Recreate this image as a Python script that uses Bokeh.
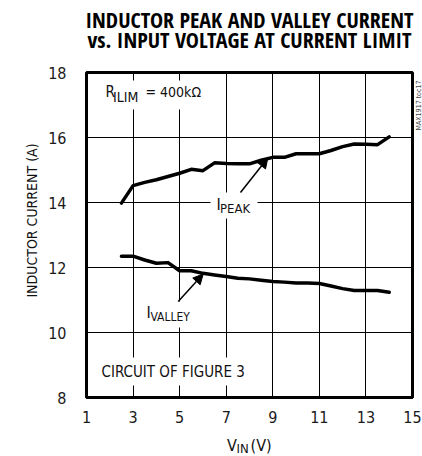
from bokeh.plotting import figure
from bokeh.models import Label, BoxAnnotation, Arrow, NormalHead, FixedTicker, Range1d
from bokeh.embed import file_html
from bokeh.resources import INLINE
import math

vin = [2.5, 3.0, 3.5, 4.0, 4.5, 5.0, 5.5, 6.0, 6.5, 7.0, 7.5, 8.0,
       8.5, 9.0, 9.5, 10.0, 10.5, 11.0, 11.5, 12.0, 12.5, 13.0, 13.5, 14.0]
i_peak = [13.98, 14.52, 14.62, 14.70, 14.80, 14.90, 15.02, 14.98, 15.22, 15.20, 15.19, 15.19,
          15.30, 15.39, 15.39, 15.50, 15.50, 15.50, 15.60, 15.72, 15.80, 15.79, 15.78, 16.02]
i_valley = [12.35, 12.35, 12.23, 12.13, 12.15, 11.90, 11.90, 11.82, 11.77, 11.72, 11.67, 11.65,
            11.61, 11.57, 11.55, 11.52, 11.52, 11.51, 11.43, 11.35, 11.29, 11.29, 11.29, 11.24]
x_ticks = [1, 3, 5, 7, 9, 11, 13, 15]
y_ticks = [8, 10, 12, 14, 16, 18]

COND = "DejaVu Sans Condensed"
TITLEF = "'Open Sans Condensed', 'DejaVu Sans Condensed', sans-serif"

W, H = 422, 456
FL, FT, FW, FH = 86, 72, 326, 325

p = figure(width=W, height=H, output_backend="svg", toolbar_location=None,
           x_range=Range1d(1, 15), y_range=Range1d(8, 18),
           min_border_left=FL, min_border_right=W - FL - FW,
           min_border_top=FT, min_border_bottom=H - FT - FH)
p.outline_line_color = "black"
p.outline_line_width = 3

for ax, ticks in ((p.xaxis, x_ticks), (p.yaxis, y_ticks)):
    ax.ticker = FixedTicker(ticks=ticks)
    ax.axis_line_color = None
    ax.major_tick_line_color = None
    ax.minor_tick_line_color = None
    ax.major_label_text_font = COND
    ax.major_label_text_font_size = "16px"
    ax.major_label_text_color = "#1a1a1a"
p.xaxis.major_label_standoff = 7
p.yaxis.major_label_standoff = 14

for g in (p.xgrid, p.ygrid):
    g.grid_line_color = "black"
    g.grid_line_width = 1
    g.grid_line_alpha = 1.0

p.line(vin, i_peak, line_color="black", line_width=3.5, line_join="round", line_cap="round")
p.line(vin, i_valley, line_color="black", line_width=3.5, line_join="round", line_cap="round")

def dx(px):
    return 1 + (px - FL) / (FW / 14)
def dy(py):
    return 18 - (py - FT) / (FH / 10)

for (x0, x1, y0, y1) in [(100, 204, 80, 109), (210, 257, 192, 218),
                         (142, 193, 301, 327), (97, 247, 357, 385)]:
    p.add_layout(BoxAnnotation(left=dx(x0), right=dx(x1), top=dy(y0), bottom=dy(y1),
                               fill_color="white", fill_alpha=1.0, line_color=None,
                               level="annotation"))

def lab(text, px, py, size, font=COND, align="left", color="#111111", bold=False,
        place=None, angle=0.0):
    l = Label(x=dx(px), y=dy(py), text=text, text_font=font, angle=angle,
              text_font_size=f"{size}px", text_align=align, text_baseline="middle",
              text_color=color, text_font_style="bold" if bold else "normal")
    if place:
        p.add_layout(l, place)
    else:
        p.add_layout(l)

# in-plot annotations (positions = text centre lines)
lab("R", 105, 91, 15)
lab("ILIM", 112.5, 96.5, 14)
lab("= 400k\u03a9", 145, 91, 14)
lab("I", 216, 204, 16)
lab("PEAK", 219.5, 207.5, 13)
lab("I", 146, 311.5, 16)
lab("VALLEY", 150, 316, 12)
lab("CIRCUIT OF FIGURE 3", 101, 371, 15)

# texts outside the frame, in side panels
lab("INDUCTOR PEAK AND VALLEY CURRENT", 249, 18, 22, font=TITLEF, align="center",
    bold=True, color="black", place="above")
lab("vs. INPUT VOLTAGE AT CURRENT LIMIT", 249, 38, 22, font=TITLEF, align="center",
    bold=True, color="black", place="above")
lab("INDUCTOR CURRENT (A)", 31, 220, 14, align="center", angle=math.pi / 2, place="left")
lab("V\u00a0\u00a0\u00a0(V)", 226.5, 445, 16, place="below")
lab("IN", 236, 447.5, 13, place="left")
lab("MAX1917 toc17", 418, 105, 7, align="center", angle=math.pi / 2,
    color="#444444", place="right")

p.add_layout(Arrow(end=NormalHead(size=10, fill_color="black", line_color="black"),
                   x_start=dx(240), y_start=dy(192), x_end=dx(267.3), y_end=dy(157.5),
                   line_color="black", line_width=1.5))
p.add_layout(Arrow(end=NormalHead(size=10, fill_color="black", line_color="black"),
                   x_start=dx(177.7), y_start=dy(301), x_end=dx(202.7), y_end=dy(273.5),
                   line_color="black", line_width=1.5))

open("out.html", "w").write(file_html(p, INLINE))
